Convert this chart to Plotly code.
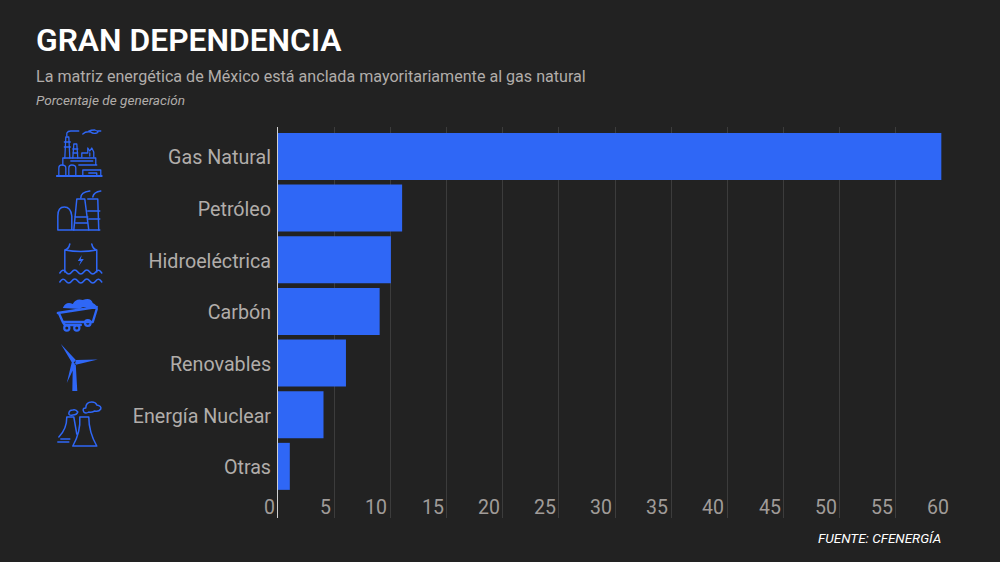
import base64
import plotly.graph_objects as go

categories = ["Gas Natural", "Petróleo", "Hidroeléctrica", "Carbón", "Renovables", "Energía Nuclear", "Otras"]
values = [59.05, 11.05, 10.05, 9.05, 6.05, 4.05, 1.05]
x_ticks = [0, 5, 10, 15, 20, 25, 30, 35, 40, 45, 50, 55, 60]

W, H = 1000, 562
L, R, T, B = 277.5, 47.5, 127, 44
BG = "#222222"
BLUE = "#2f67f6"
GREY = "#b1adaa"
PW, PH = W - L - R, H - T - B


def px(x):
    return (x - L) / PW


def py(y):
    return 1 - (y - T) / PH


ICONS = f'''<svg xmlns="http://www.w3.org/2000/svg" viewBox="40 120 80 335" width="320" height="1340">
<g fill="none" stroke="{BLUE}" stroke-width="1.3" stroke-linejoin="round" stroke-linecap="round">
<!-- factory -->
<path stroke-width="1.8" d="M56 176H101"/>
<path d="M58 176V168Q58 165 61 165Q65 165 65 168V176M68 176V168Q68 165 71 165Q75 165 75 168V176M82 176V170H100V176M88 173H96V176"/>
<path d="M62 165V158H95V165M78 165H96M70 161H92"/>
<path d="M64 158L65 137H68L69 158M63.5 142H69.5M63.5 147H69.5M72 158L73 144H76L77 158M72 149H77M72 153H77"/>
<path d="M81 157V153H87V148L89 151L91 148L93 152V157M89 153V156"/>
<path d="M66 136V133Q67 131 70 131H78M82 134Q85 131 90 132Q92 134 96 133Q99 132 94 130Q90 130 88 131M97 131H100"/>
<!-- factory 2 -->
<path stroke-width="1.5" d="M57 230V216Q57 207 63.5 207Q70 207 71 216V230ZM72 230H99"/>
<path stroke-width="1.5" d="M73 230L76 199H84L88 230M74 217H87M75 223H87M87 199H97L98 230M87 211H99M88 219H99"/>
<path stroke-width="1.5" d="M80 198Q80 192 89 191M92 197Q93 192 100 191"/>
<!-- hydro -->
<path stroke-width="1.5" d="M69 244Q68 249 64 250V272M91 244Q92 249 96 250V272M64 250Q80 253 96 250"/>
<path fill="{BLUE}" stroke="none" d="M81 255L77 261H80L78 266L83 259H80Z"/>
<path stroke-width="1.5" d="M59 273Q62 268 65 272T71 272T77 272T83 272T89 272T95 272T101 273M59 282Q62 277 65 281T71 281T77 281T83 281T89 281T95 281T101 282"/>
<!-- coal cart -->
<path fill="{BLUE}" stroke="none" d="M62 308Q65 301 72 304Q75 298 82 300Q90 297 92 303Q97 305 95 309H87Q83 305 79 309Z"/>
<path stroke-width="2.4" d="M57 313L96 307M58 313L62 322H92L96 309M62 322L64 325H80"/>
<circle stroke-width="2.2" cx="66" cy="328" r="2.6"/><circle stroke-width="2.2" cx="76" cy="328" r="2.6"/><circle stroke-width="2.2" cx="87" cy="323" r="2.8"/>
<!-- turbine -->
<path fill="{BLUE}" stroke="none" d="M60 344L75 360L72 364ZM97 359.5L75 360L74 365ZM66 383L71 362L75 364ZM72 365L75 365L76.5 391H71.5Z"/>
<!-- nuclear -->
<path stroke-width="1.5" d="M66 417H73M66 417Q66 429 58 437M73 417L76 434M72 446H96M79 417H88M79 417Q80 432 72 446M88 417Q88 432 96 446"/>
<path stroke-width="1.5" d="M57 442H68M60 439H69"/>
<path stroke-width="1.5" d="M68 414Q68 410 72 410Q75 409 77 412Q76 415 72 415Q69 416 68 414ZM83 412Q81 408 85 408Q85 402 91 402Q95 402 96 405Q101 406 100 409Q98 412 94 411Q90 413 88 412Q85 414 83 412Z"/>
</g></svg>'''
icon_src = "data:image/svg+xml;base64," + base64.b64encode(ICONS.encode("utf-8")).decode()

fig = go.Figure(
    go.Bar(
        y=categories,
        x=values,
        orientation="h",
        marker=dict(color=BLUE, line_width=0),
        width=0.91,
        hoverinfo="x+y",
    )
)

texts = [
    ("GRAN DEPENDENCIA", 35, 40, 31.8, "#ffffff", "left", 600),
    ("La matriz energética de México está anclada mayoritariamente al gas natural", 35, 76, 16.1, GREY, "left", 400),
    ("<i>Porcentaje de generación</i>", 35, 100, 13.6, GREY, "left", 400),
    ("<i>FUENTE: CFENERGÍA</i>", 941, 538, 13.5, "#ffffff", "right", 400),
]
annotations = [
    dict(
        text=t, x=px(x), y=py(y), xref="paper", yref="paper",
        xanchor=anc, yanchor="middle", showarrow=False,
        font=dict(family="Roboto", size=s, color=c, weight=w), borderpad=0, borderwidth=0,
    )
    for t, x, y, s, c, anc, w in texts
]
# x tick labels sit to the left of their gridline, inside the plot area
annotations += [
    dict(
        text=str(v), x=v, y=py(507), xref="x", yref="paper",
        xanchor="right", yanchor="middle", showarrow=False, xshift=-3,
        font=dict(family="Roboto", size=19.5, color="#a09c99"), borderpad=0, borderwidth=0,
    )
    for v in x_ticks
]

fig.update_layout(
    width=W,
    height=H,
    autosize=False,
    paper_bgcolor=BG,
    plot_bgcolor=BG,
    showlegend=False,
    margin=dict(l=L, r=R, t=T, b=B, pad=0),
    font=dict(family="Roboto", color=GREY),
    annotations=annotations,
    images=[
        dict(
            source=icon_src, xref="paper", yref="paper",
            x=px(40), y=py(120), sizex=80 / PW, sizey=335 / PH,
            xanchor="left", yanchor="top", sizing="stretch", layer="above",
        )
    ],
    xaxis=dict(
        range=[0, 60],
        tickmode="array",
        tickvals=x_ticks,
        showticklabels=False,
        showgrid=True,
        gridcolor="#3c3c3c",
        gridwidth=1,
        zeroline=False,
        showline=False,
        ticks="",
        layer="below traces",
        fixedrange=True,
    ),
    yaxis=dict(
        type="category",
        categoryorder="array",
        categoryarray=categories,
        range=[7.0, -0.57],
        tickfont=dict(family="Roboto", size=19.7, color=GREY, weight=400),
        showgrid=False,
        zeroline=False,
        showline=True,
        linecolor="#d0d0d0",
        linewidth=1,
        ticks="",
        ticklabelstandoff=2,
        ticklabelshift=-1,
        fixedrange=True,
    ),
)

fig.write_html(
    "out.html",
    config={"displayModeBar": False},
    post_script="document.body.style.margin='0';document.body.style.overflow='hidden';",
)
